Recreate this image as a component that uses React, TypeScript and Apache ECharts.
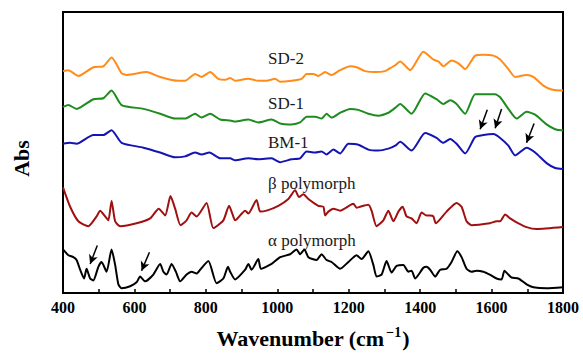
import React, { useEffect, useRef } from "react";
import * as echarts from "echarts";

// Wavenumber (cm^-1) / absorbance (a.u., offset) pairs for each trace
const sd2Wn = [400, 415, 443, 485, 513, 536, 564, 578, 634, 672, 723, 742, 770, 788, 812, 835, 854, 868, 882, 919, 947, 970, 994, 1008, 1040, 1068, 1082, 1101, 1115, 1134, 1152, 1176, 1204, 1222, 1246, 1274, 1302, 1316, 1330, 1344, 1372, 1409, 1437, 1451, 1465, 1488, 1507, 1526, 1554, 1577, 1605, 1624, 1647, 1666, 1698, 1717, 1745, 1768, 1796, 1800];
const sd2Abs = [2.29, 2.30, 2.24, 2.33, 2.34, 2.43, 2.27, 2.25, 2.28, 2.23, 2.19, 2.19, 2.26, 2.23, 2.28, 2.21, 2.20, 2.22, 2.19, 2.21, 2.19, 2.19, 2.21, 2.18, 2.19, 2.21, 2.26, 2.26, 2.24, 2.28, 2.25, 2.30, 2.34, 2.33, 2.29, 2.28, 2.29, 2.32, 2.35, 2.39, 2.30, 2.49, 2.41, 2.39, 2.34, 2.40, 2.37, 2.31, 2.45, 2.46, 2.45, 2.41, 2.31, 2.23, 2.25, 2.23, 2.14, 2.10, 2.09, 2.09];

const sd1Wn = [400, 415, 438, 485, 513, 536, 564, 625, 672, 714, 742, 770, 788, 812, 840, 868, 882, 919, 947, 984, 1008, 1040, 1064, 1082, 1106, 1124, 1138, 1152, 1176, 1204, 1227, 1255, 1283, 1311, 1330, 1344, 1376, 1414, 1446, 1465, 1484, 1502, 1526, 1554, 1582, 1610, 1624, 1647, 1670, 1698, 1722, 1754, 1778, 1796, 1800];
const sd1Abs = [1.92, 1.94, 1.90, 2.00, 2.01, 2.09, 1.94, 1.90, 1.85, 1.80, 1.80, 1.85, 1.81, 1.85, 1.79, 1.78, 1.77, 1.79, 1.76, 1.79, 1.75, 1.74, 1.76, 1.82, 1.82, 1.80, 1.85, 1.81, 1.86, 1.90, 1.89, 1.85, 1.83, 1.86, 1.91, 1.95, 1.85, 2.06, 2.00, 1.95, 1.99, 1.95, 1.85, 2.05, 2.05, 2.05, 2.02, 1.90, 1.80, 1.87, 1.84, 1.74, 1.69, 1.68, 1.68];

const bm1Wn = [400, 420, 438, 485, 513, 536, 564, 625, 672, 714, 742, 770, 788, 810, 840, 868, 882, 919, 947, 984, 1008, 1040, 1064, 1082, 1106, 1124, 1138, 1157, 1176, 1199, 1227, 1255, 1283, 1311, 1330, 1344, 1376, 1414, 1446, 1465, 1484, 1502, 1526, 1554, 1577, 1605, 1624, 1647, 1666, 1698, 1722, 1754, 1778, 1800];
const bm1Abs = [1.54, 1.55, 1.54, 1.63, 1.63, 1.68, 1.55, 1.50, 1.45, 1.40, 1.41, 1.45, 1.43, 1.45, 1.39, 1.39, 1.37, 1.39, 1.38, 1.39, 1.35, 1.38, 1.39, 1.46, 1.45, 1.46, 1.43, 1.48, 1.44, 1.54, 1.53, 1.48, 1.47, 1.49, 1.52, 1.56, 1.47, 1.65, 1.60, 1.55, 1.59, 1.54, 1.44, 1.61, 1.63, 1.64, 1.60, 1.52, 1.42, 1.50, 1.45, 1.34, 1.29, 1.28];

const betaWn = [400, 420, 443, 471, 494, 504, 518, 527, 536, 546, 560, 606, 644, 668, 686, 701, 714, 729, 746, 760, 774, 802, 821, 849, 865, 874, 882, 910, 919, 942, 952, 970, 1003, 1031, 1050, 1061, 1073, 1087, 1115, 1129, 1134, 1143, 1157, 1176, 1213, 1222, 1232, 1255, 1264, 1278, 1297, 1311, 1325, 1339, 1351, 1362, 1376, 1390, 1404, 1418, 1428, 1437, 1444, 1474, 1502, 1516, 1530, 1544, 1595, 1614, 1624, 1638, 1652, 1670, 1698, 1726, 1800];
const betaAbs = [1.09, 0.89, 0.74, 0.69, 0.79, 0.85, 0.79, 0.75, 0.95, 0.74, 0.69, 0.72, 0.77, 0.87, 0.80, 1.00, 0.87, 0.70, 0.75, 0.83, 0.79, 0.93, 0.67, 0.75, 0.90, 0.82, 0.75, 0.85, 0.82, 0.96, 0.84, 0.85, 0.90, 0.97, 1.06, 0.99, 1.02, 0.97, 0.90, 0.89, 0.80, 0.84, 0.87, 0.85, 0.92, 0.88, 0.89, 0.91, 0.85, 0.69, 0.75, 0.85, 0.74, 0.84, 0.89, 0.79, 0.77, 0.72, 0.83, 0.80, 0.80, 0.79, 0.72, 0.84, 0.93, 0.89, 0.74, 0.70, 0.72, 0.74, 0.74, 0.81, 0.77, 0.73, 0.68, 0.66, 0.68];

const alphaWn = [400, 415, 429, 438, 448, 459, 466, 476, 485, 499, 508, 522, 536, 546, 555, 564, 588, 606, 616, 630, 653, 672, 681, 690, 704, 716, 728, 746, 760, 774, 784, 807, 830, 849, 862, 868, 882, 910, 919, 928, 947, 954, 984, 1008, 1036, 1054, 1064, 1076, 1087, 1110, 1124, 1138, 1152, 1176, 1199, 1222, 1236, 1255, 1269, 1278, 1292, 1306, 1320, 1334, 1353, 1367, 1376, 1386, 1409, 1418, 1428, 1442, 1456, 1474, 1488, 1504, 1516, 1530, 1544, 1558, 1577, 1595, 1614, 1628, 1636, 1647, 1656, 1675, 1698, 1717, 1754, 1800];
const alphaAbs = [0.45, 0.39, 0.37, 0.34, 0.24, 0.15, 0.25, 0.15, 0.13, 0.27, 0.32, 0.22, 0.45, 0.29, 0.09, 0.05, 0.07, 0.11, 0.17, 0.12, 0.19, 0.30, 0.22, 0.19, 0.30, 0.22, 0.12, 0.19, 0.22, 0.20, 0.24, 0.33, 0.10, 0.15, 0.27, 0.22, 0.14, 0.24, 0.30, 0.24, 0.35, 0.25, 0.30, 0.37, 0.40, 0.45, 0.40, 0.45, 0.37, 0.34, 0.40, 0.34, 0.32, 0.25, 0.32, 0.39, 0.35, 0.43, 0.29, 0.17, 0.19, 0.33, 0.21, 0.28, 0.29, 0.22, 0.23, 0.15, 0.26, 0.27, 0.24, 0.17, 0.24, 0.25, 0.32, 0.43, 0.37, 0.25, 0.22, 0.23, 0.22, 0.19, 0.15, 0.14, 0.23, 0.19, 0.16, 0.15, 0.09, 0.06, 0.05, 0.06];

const seriesNames = ["SD-2", "SD-1", "BM-1", "β polymorph", "α polymorph"];
const seriesColors = ["#ff8c1a", "#1e8c1e", "#1414b4", "#a01010", "#000000"];

// Arrow annotations: [tailWn, tailAbs, headWn, headAbs]
const bmArrows = [
  [1588, 1.89, 1568, 1.69],
  [1628, 1.90, 1610, 1.70],
  [1719, 1.75, 1698, 1.55],
];
const alphaArrows = [
  [496, 0.49, 476, 0.30],
  [642, 0.42, 620, 0.23],
];

const xTicks = { min: 400, max: 1800, interval: 200 };

const zip = (a: number[], b: number[]) => a.map((v, i) => [v, b[i]]);

const arrowLine = (arr: number[][]) => ({
  silent: true,
  symbol: ["none", "arrow"],
  symbolSize: [7, 9],
  label: { show: false },
  lineStyle: { color: "#000", width: 1.5, type: "solid" },
  data: arr.map((a) => [{ coord: [a[0], a[1]] }, { coord: [a[2], a[3]] }]),
});

const serif = "Liberation Serif";

export default function App() {
  const ref = useRef<HTMLDivElement>(null);
  useEffect(() => {
    if (!ref.current) return;
    const chart = echarts.init(ref.current, null, { renderer: "svg" });
    const datas = [
      zip(sd2Wn, sd2Abs),
      zip(sd1Wn, sd1Abs),
      zip(bm1Wn, bm1Abs),
      zip(betaWn, betaAbs),
      zip(alphaWn, alphaAbs),
    ];
    const labelPos = [59, 104, 143, 184, 241];
    chart.setOption({
      animation: false,
      backgroundColor: "#fff",
      grid: {
        left: 63,
        right: 20,
        top: 12,
        bottom: 52,
        show: true,
        borderColor: "#000",
        borderWidth: 2,
      },
      xAxis: {
        type: "value",
        min: xTicks.min,
        max: xTicks.max,
        interval: xTicks.interval,
        axisLine: { show: true, lineStyle: { color: "#000", width: 2 } },
        axisTick: { show: true, inside: true, length: 4, lineStyle: { color: "#000", width: 1.5 } },
        minorTick: { show: true, splitNumber: 2, length: 4, lineStyle: { color: "#000", width: 1.5 } },
        splitLine: { show: false },
        axisLabel: {
          color: "#000",
          fontFamily: serif,
          fontWeight: "bold",
          fontSize: 16,
          margin: 6,
          formatter: (v: number) => String(v),
        },
        name: "{a|Wavenumber (cm}{s|−1}{a|)}",
        nameLocation: "middle",
        nameGap: 32,
        nameTextStyle: {
          fontFamily: serif,
          rich: {
            a: { fontFamily: serif, fontWeight: "bold", fontSize: 22, color: "#000", lineHeight: 24, verticalAlign: "bottom" },
            s: { fontFamily: serif, fontWeight: "bold", fontSize: 14, color: "#000", lineHeight: 24, verticalAlign: "top", padding: [0, 1, 0, 2] },
          },
        },
      },
      yAxis: {
        type: "value",
        min: 0,
        max: 2.9,
        axisLine: { show: true, lineStyle: { color: "#000", width: 2 } },
        axisTick: { show: false },
        axisLabel: { show: false },
        splitLine: { show: false },
        name: "Abs",
        nameLocation: "middle",
        nameGap: 31,
        nameRotate: 90,
        nameTextStyle: {
          fontFamily: serif,
          fontWeight: "bold",
          fontSize: 22,
          color: "#000",
          padding: [0, 12, 0, 0],
        },
      },
      series: datas.map((d, i) => ({
        name: seriesNames[i],
        type: "line",
        data: d,
        showSymbol: false,
        smooth: 0.2,
        lineStyle: { color: seriesColors[i], width: 2 },
        itemStyle: { color: seriesColors[i] },
        markLine: i === 2 ? arrowLine(bmArrows) : i === 4 ? arrowLine(alphaArrows) : undefined,
      })),
      graphic: seriesNames.map((n, i) => ({
        type: "text",
        left: 268,
        top: labelPos[i] - 9,
        style: {
          text: n,
          fontFamily: serif,
          fontSize: 17,
          fill: "#1a1a1a",
        },
      })),
    });
    return () => chart.dispose();
  }, []);
  return (
    <div
      ref={ref}
      style={{ position: "fixed", left: 0, top: 0, width: 583, height: 354, background: "#fff" }}
    />
  );
}
